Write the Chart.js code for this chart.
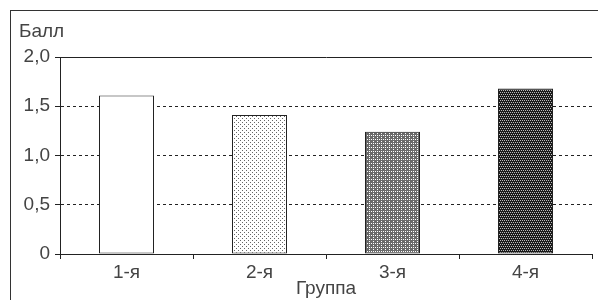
<!DOCTYPE html>
<html>
<head>
<meta charset="utf-8">
<script src="https://cdn.jsdelivr.net/npm/chart.js@4.4.1/dist/chart.umd.min.js"></script>
<style>
    html, body { margin: 0; padding: 0; background: #fff; overflow: hidden; }
    #wrap { position: relative; width: 598px; height: 300px; }
    #frame { position: absolute; left: 10px; top: 10px; width: 700px; height: 400px;
             border-left: 1px solid #333; border-top: 1px solid #333; }
    canvas { position: absolute; left: 0; top: 0; }
</style>
</head>
<body>
<div id="wrap">
    <div id="frame"></div>
    <canvas id="chart" width="598" height="300"></canvas>
</div>
<script>
const groups = ['1-я', '2-я', '3-я', '4-я'];
const scores = [1.61, 1.41, 1.24, 1.68];
const yTicks = [0, 0.5, 1.0, 1.5, 2.0];
const yTitle = 'Балл';
const xTitle = 'Группа';

const lineColor = '#222';
const textColor = '#444';
const fontFamily = "'Liberation Sans', Arial, sans-serif";

// small bitmap tiles for the hatched fills
function makePattern(base, dotColor, dots) {
    const c = document.createElement('canvas');
    c.width = 4;
    c.height = 4;
    const g = c.getContext('2d');
    g.fillStyle = base;
    g.fillRect(0, 0, 4, 4);
    g.fillStyle = dotColor;
    dots.forEach(d => g.fillRect(d[0], d[1], 1, 1));
    return g.createPattern(c, 'repeat');
}

const fills = [
    '#ffffff',
    makePattern('#ffffff', '#666', [[0, 0], [2, 2]]),
    makePattern('#6a6a6a', '#ffffff', [[1, 1], [3, 3], [1, 3]]),
    makePattern('#1a1a1a', '#bbbbbb', [[0, 0], [2, 0], [1, 2], [3, 2]])
];

const captionPlugin = {
    id: 'caption',
    afterDraw(chart) {
        const ctx = chart.ctx;
        ctx.save();
        ctx.fillStyle = textColor;
        ctx.font = '19px ' + fontFamily;
        ctx.textBaseline = 'alphabetic';
        ctx.textAlign = 'left';
        ctx.fillText(yTitle, 19, 37);
        ctx.restore();
    }
};

new Chart(document.getElementById('chart'), {
    type: 'bar',
    data: {
        labels: groups,
        datasets: [{
            data: scores,
            backgroundColor: fills,
            borderColor: lineColor,
            borderWidth: 1,
            borderSkipped: false,
            categoryPercentage: 1,
            barPercentage: 55 / 133   // 55px bars in 133px slots
        }]
    },
    options: {
        responsive: false,
        animation: false,
        layout: { padding: { top: 57, right: 6, left: 0, bottom: 0 } },
        plugins: {
            legend: { display: false },
            tooltip: { enabled: false }
        },
        scales: {
            x: {
                offset: true,
                grid: {
                    offset: true,
                    drawOnChartArea: true,
                    color: ctx => (ctx.index === groups.length ? lineColor : 'rgba(0,0,0,0)'),
                    tickColor: lineColor,
                    tickLength: 5
                },
                border: { display: true, color: lineColor },
                ticks: {
                    color: textColor,
                    padding: 2,
                    font: { family: fontFamily, size: 19 }
                },
                title: {
                    display: true,
                    text: xTitle,
                    color: textColor,
                    padding: { top: 0, bottom: 0 },
                    font: { family: fontFamily, size: 19 }
                },
                afterFit: s => { s.height = 46; }
            },
            y: {
                min: 0,
                max: 2,
                afterBuildTicks: s => { s.ticks = yTicks.map(v => ({ value: v })); },
                grid: {
                    color: lineColor,
                    tickColor: lineColor,
                    tickLength: 5,
                    tickBorderDash: []
                },
                border: {
                    display: true,
                    color: lineColor,
                    dash: ctx => (ctx.tick && ctx.tick.value > 0 && ctx.tick.value < 2 ? [3, 3] : [])
                },
                ticks: {
                    color: textColor,
                    padding: 5,
                    font: { family: fontFamily, size: 19 },
                    callback: v => (v === 0 ? '0' : v.toFixed(1).replace('.', ','))
                },
                afterFit: s => { s.width = 60; }
            }
        }
    },
    plugins: [captionPlugin]
});
</script>
</body>
</html>
